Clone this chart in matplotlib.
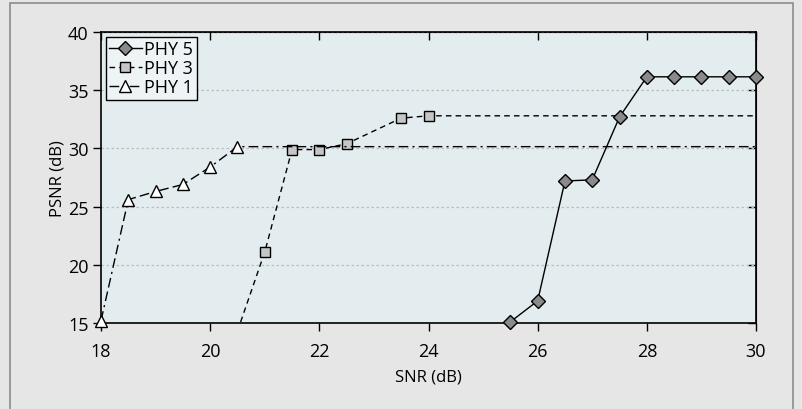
import matplotlib
matplotlib.use("Agg")
import matplotlib.pyplot as plt
from matplotlib.patches import Rectangle

plt.rcParams['font.family'] = ['Open Sans', 'DejaVu Sans']

# data
snr_phy5 = [25.5, 26, 26.5, 27, 27.5, 28, 28.5, 29, 29.5, 30]
psnr_phy5 = [15.1, 16.9, 27.2, 27.3, 32.7, 36.15, 36.15, 36.15, 36.15, 36.15]

snr_phy3 = [20.5, 21, 21.5, 22, 22.5, 23.5, 24, 30]
psnr_phy3 = [14.3, 21.1, 29.9, 29.9, 30.4, 32.6, 32.8, 32.8]

snr_phy1 = [18, 18.5, 19, 19.5, 20, 20.5, 30]
psnr_phy1 = [15.2, 25.6, 26.3, 26.9, 28.4, 30.15, 30.15]

x_ticks = [18, 20, 22, 24, 26, 28, 30]
y_ticks = [15, 20, 25, 30, 35, 40]

fig = plt.figure(figsize=(8.03, 4.10), dpi=100, facecolor='#e6e6e6')
fig.patches.append(Rectangle((10 / 803, -0.05), 783 / 803, 1.05 - 4 / 410,
                             transform=fig.transFigure, fill=False,
                             edgecolor='#8c8c8c', linewidth=1.2))

ax = fig.add_axes([101 / 803, 1 - 324 / 410, 655 / 803, 291 / 410])
ax.set_facecolor('#e3ecef')

ax.plot(snr_phy5, psnr_phy5, color='black', linewidth=1.0, linestyle='-',
        marker='D', markersize=7.5, markerfacecolor='#8a8a8a',
        markeredgecolor='black', markeredgewidth=1.0, label='PHY 5',
        clip_on=False, zorder=4)
ax.plot(snr_phy3, psnr_phy3, color='black', linewidth=1.0,
        linestyle=(0, (4, 3)), marker='s', markersize=7,
        markerfacecolor='#c6c6c6', markeredgecolor='black',
        markeredgewidth=1.0, markevery=[1, 2, 3, 4, 5, 6],
        label='PHY 3', zorder=3)
ax.plot(snr_phy1, psnr_phy1, color='black', linewidth=1.0,
        linestyle=(0, (7, 3, 1.5, 3, 7, 3)), marker='^', markersize=8.5,
        markerfacecolor='white', markeredgecolor='black',
        markeredgewidth=1.0, markevery=[0, 1, 2, 3, 4, 5],
        label='PHY 1', clip_on=False, zorder=3)

ax.set_xlim(18, 30)
ax.set_ylim(15, 40)
ax.set_xticks(x_ticks)
ax.set_yticks(y_ticks)
ax.yaxis.grid(True, linestyle=(0, (2, 2)), color='#bdbdbd', linewidth=0.9)
ax.set_axisbelow(True)

ax.tick_params(axis='x', direction='out', length=6, top=False,
               labelsize=13, width=1, pad=8)
ax.tick_params(axis='y', direction='out', length=6, right=False,
               labelsize=13, width=1, pad=3)
sec_x = ax.secondary_xaxis('top')
sec_x.set_xticks(x_ticks)
sec_x.tick_params(direction='in', length=6, labeltop=False, width=1)
sec_y = ax.secondary_yaxis('right')
sec_y.set_yticks(y_ticks)
sec_y.tick_params(direction='in', length=6, labelright=False, width=1)

for s in ax.spines.values():
    s.set_linewidth(1.2)

ax.set_xlabel('SNR (dB)', fontsize=12, labelpad=6)
ax.set_ylabel('PSNR (dB)', fontsize=12, labelpad=2)

leg = ax.legend(loc='upper left', fontsize=13, frameon=True, fancybox=False,
                borderpad=0.2, labelspacing=0.05, handlelength=1.8,
                handletextpad=0.15, borderaxespad=0.25)
leg.get_frame().set_edgecolor('black')
leg.get_frame().set_facecolor('#eef3f5')
leg.get_frame().set_linewidth(1.0)
leg.get_frame().set_alpha(1)

fig.savefig('out.png', dpi=100, facecolor=fig.get_facecolor())
